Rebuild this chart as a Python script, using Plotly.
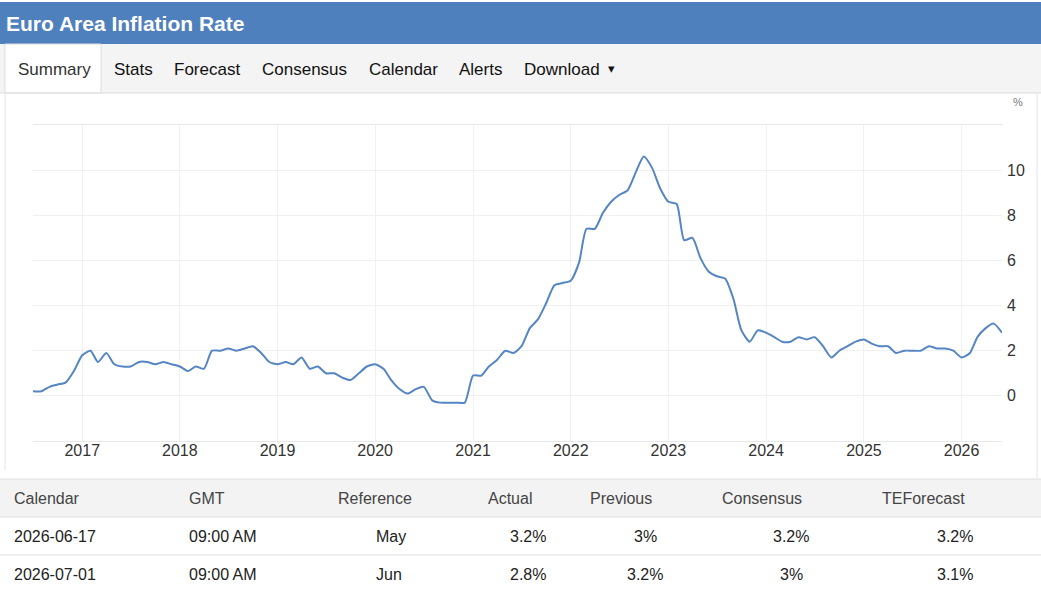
import plotly.graph_objects as go
import pandas as pd

# ---- data ----
start_month = "2016-07-01"
inflation = [
    # 2016 Jul-Dec
    0.2, 0.2, 0.4, 0.5, 0.6, 1.1,
    # 2017
    1.8, 2.0, 1.5, 1.9, 1.4, 1.3, 1.3, 1.5, 1.5, 1.4, 1.5, 1.4,
    # 2018
    1.3, 1.1, 1.3, 1.2, 2.0, 2.0, 2.1, 2.0, 2.1, 2.2, 1.9, 1.5,
    # 2019
    1.4, 1.5, 1.4, 1.7, 1.2, 1.3, 1.0, 1.0, 0.8, 0.7, 1.0, 1.3,
    # 2020
    1.4, 1.2, 0.7, 0.3, 0.1, 0.3, 0.4, -0.2, -0.3, -0.3, -0.3, -0.3,
    # 2021
    0.9, 0.9, 1.3, 1.6, 2.0, 1.9, 2.2, 3.0, 3.4, 4.1, 4.9, 5.0,
    # 2022
    5.1, 5.9, 7.4, 7.4, 8.1, 8.6, 8.9, 9.1, 9.9, 10.6, 10.1, 9.2,
    # 2023
    8.6, 8.5, 6.9, 7.0, 6.1, 5.5, 5.3, 5.2, 4.3, 2.9, 2.4, 2.9,
    # 2024
    2.8, 2.6, 2.4, 2.4, 2.6, 2.5, 2.6, 2.2, 1.7, 2.0, 2.2, 2.4,
    # 2025
    2.5, 2.3, 2.2, 2.2, 1.9, 2.0, 2.0, 2.0, 2.2, 2.1, 2.1, 2.0,
    # 2026 Jan-Jun
    1.7, 1.9, 2.6, 3.0, 3.2, 2.8,
]
dates = pd.date_range(start_month, periods=len(inflation), freq="MS")

year_ticks = [str(y) for y in range(2017, 2027)]
y_tick_values = [-2, 0, 2, 4, 6, 8, 10, 12]
y_tick_labels = ["", "0", "2", "4", "6", "8", "10", ""]

title_text = "Euro Area Inflation Rate"
tabs = ["Summary", "Stats", "Forecast", "Consensus", "Calendar", "Alerts", "Download"]

table_header = ["Calendar", "GMT", "Reference", "Actual", "Previous", "Consensus", "TEForecast"]
table_row1 = ["2026-06-17", "09:00 AM", "May", "3.2%", "3%", "3.2%", "3.2%"]
table_row2 = ["2026-07-01", "09:00 AM", "Jun", "2.8%", "3.2%", "3%", "3.1%"]

# ---- layout helpers ----
W, H = 1041, 591
def px(x):
    return x / W
def py(y):
    return 1 - y / H

FONT = "Liberation Sans, Arial, sans-serif"
BLUE = "#4f80be"
LINE = "#5585c2"

fig = go.Figure()
fig.add_trace(go.Scatter(
    x=dates, y=inflation, mode="lines",
    line=dict(color=LINE, width=2, shape="spline", smoothing=0.6),
    hoverinfo="skip", showlegend=False,
))

shapes = []
annotations = []

# header bar
shapes.append(dict(type="rect", xref="paper", yref="paper", x0=0, x1=1, y0=py(44), y1=py(2),
                   fillcolor=BLUE, line=dict(width=0), layer="below"))
annotations.append(dict(text="<b>" + title_text + "</b>", x=px(4), y=py(23), xref="paper", yref="paper",
                        xanchor="left", yanchor="middle", showarrow=False,
                        font=dict(family=FONT, size=21, color="white")))

# tab bar
shapes.append(dict(type="rect", xref="paper", yref="paper", x0=0, x1=1, y0=py(93), y1=py(44),
                   fillcolor="#f4f4f4", line=dict(width=0), layer="below"))
shapes.append(dict(type="rect", xref="paper", yref="paper", x0=px(5), x1=px(101), y0=py(93), y1=py(44),
                   fillcolor="white", line=dict(color="#dddddd", width=1), layer="below"))
shapes.append(dict(type="line", xref="paper", yref="paper", x0=0, x1=1, y0=py(93), y1=py(93),
                   line=dict(color="#dddddd", width=1)))
tab_x = [16, 112, 172, 260, 367, 457, 522]
for i, t in enumerate(tabs):
    annotations.append(dict(text=t, x=px(tab_x[i]), y=py(69), xref="paper", yref="paper",
                            xanchor="left", yanchor="middle", showarrow=False,
                            font=dict(family=FONT, size=17, color="#333333" if i == 0 else "#111111")))
annotations.append(dict(text="▾", x=px(606), y=py(68), xref="paper", yref="paper",
                        xanchor="left", yanchor="middle", showarrow=False,
                        font=dict(family=FONT, size=13, color="#111111")))

# container borders of chart area
shapes.append(dict(type="line", xref="paper", yref="paper", x0=px(5), x1=px(5), y0=py(470), y1=py(93),
                   line=dict(color="#e4e4e4", width=1)))
shapes.append(dict(type="line", xref="paper", yref="paper", x0=px(1037), x1=px(1037), y0=py(478), y1=py(93),
                   line=dict(color="#e4e4e4", width=1)))

annotations.append(dict(text="%", x=px(1011), y=py(102), xref="paper", yref="paper",
                        xanchor="left", yanchor="middle", showarrow=False,
                        font=dict(family=FONT, size=11, color="#777777")))

# table
shapes.append(dict(type="rect", xref="paper", yref="paper", x0=0, x1=1, y0=py(517), y1=py(479),
                   fillcolor="#f3f3f3", line=dict(width=0), layer="below"))
for yy in [479, 517, 555]:
    shapes.append(dict(type="line", xref="paper", yref="paper", x0=0, x1=1, y0=py(yy), y1=py(yy),
                       line=dict(color="#e0e0e0", width=1)))

header_x = [12, 187, 336, 486, 588, 720, 880]
cell_pos = [(12, "left"), (187, "left"), (374, "left"), (548, "right"),
            (645, "center"), (791, "center"), (975, "right")]
for i, h in enumerate(table_header):
    annotations.append(dict(text=h, x=px(header_x[i]), y=py(498), xref="paper", yref="paper",
                            xanchor="left", yanchor="middle", showarrow=False,
                            font=dict(family=FONT, size=16, color="#444444")))
for row, ycen in [(table_row1, 536), (table_row2, 574)]:
    for i, v in enumerate(row):
        xx, anc = cell_pos[i]
        annotations.append(dict(text=v, x=px(xx), y=py(ycen), xref="paper", yref="paper",
                                xanchor=anc, yanchor="middle", showarrow=False,
                                font=dict(family=FONT, size=16, color="#222222")))

fig.update_layout(
    width=W, height=H, autosize=False,
    margin=dict(l=0, r=0, t=0, b=0),
    paper_bgcolor="white", plot_bgcolor="white",
    shapes=shapes, annotations=annotations,
    xaxis=dict(
        domain=[px(33), px(1002)],
        type="date",
        range=[dates[0], dates[-1]],
        tickvals=[pd.Timestamp(f"{y}-01-01") for y in year_ticks],
        ticktext=year_ticks,
        showgrid=True, gridcolor="#f0f0f0", gridwidth=1,
        showline=True, linecolor="#e8e8e8", mirror=True,
        ticks="", zeroline=False,
        ticklabelstandoff=-5,
        tickfont=dict(family=FONT, size=16, color="#333333"),
        fixedrange=True,
    ),
    yaxis=dict(
        domain=[py(441), py(125)],
        range=[-2, 12],
        side="right",
        tickvals=y_tick_values, ticktext=y_tick_labels,
        showgrid=True, gridcolor="#f0f0f0", gridwidth=1,
        showline=False, zeroline=False, ticks="",
        ticklabelstandoff=4,
        tickfont=dict(family=FONT, size=16, color="#333333"),
        fixedrange=True,
    ),
)

fig.write_html("out.html", config={"displayModeBar": False})
